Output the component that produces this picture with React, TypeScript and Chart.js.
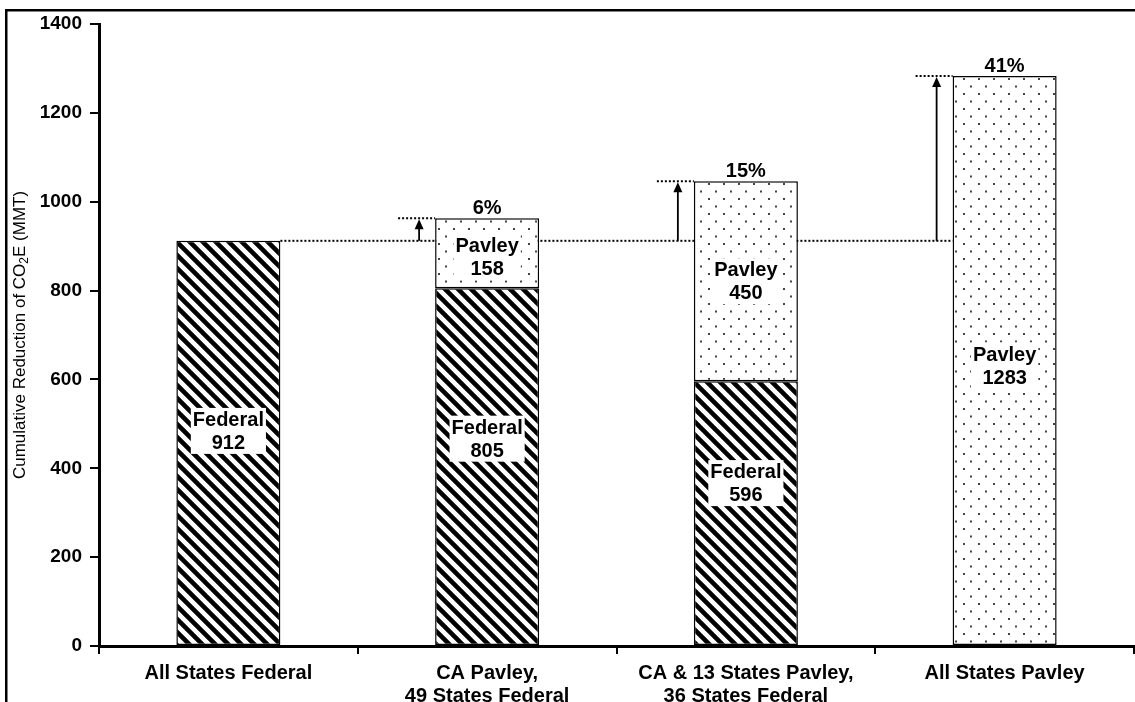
import React, { useEffect, useRef } from "react";
import { Chart, registerables } from "chart.js";

Chart.register(...registerables);

// ---------- data ----------
const categories: string[][] = [
  ["All States Federal"],
  ["CA Pavley,", "49 States Federal"],
  ["CA & 13 States Pavley,", "36 States Federal"],
  ["All States Pavley"],
];
const federalValues: (number | null)[] = [912, 805, 596, null];
const pavleyValues: (number | null)[] = [null, 158, 450, 1283];
const seriesNames = ["Federal", "Pavley"];
const yMin = 0;
const yMax = 1400;
const yStep = 200;
const yTitleParts = ["Cumulative Reduction of CO", "2", "E (MMT)"];

// label nudges (pixels, per dataset / category) – styling only
const labelNudge: number[][] = [
  [-12, -28, -30, 0],
  [0, 4, 0, 5],
];

const FONT = "'Liberation Sans', Arial, Helvetica, sans-serif";
const BOTTOM = 646;

function makeHatch(): CanvasPattern | string {
  const s = 13;
  const c = document.createElement("canvas");
  c.width = s;
  c.height = s;
  const g = c.getContext("2d");
  if (!g) return "#000";
  g.fillStyle = "#fff";
  g.fillRect(0, 0, s, s);
  g.strokeStyle = "#000";
  g.lineWidth = 4.6;
  g.beginPath();
  for (const k of [-1, 0, 1]) {
    g.moveTo(k * s - 3, -3);
    g.lineTo(k * s + s + 3, s + 3);
  }
  g.stroke();
  return g.createPattern(c, "repeat") || "#000";
}

function makeDots(): CanvasPattern | string {
  const w = 15;
  const h = 15;
  const c = document.createElement("canvas");
  c.width = w;
  c.height = h;
  const g = c.getContext("2d");
  if (!g) return "#fff";
  g.fillStyle = "#fff";
  g.fillRect(0, 0, w, h);
  g.fillStyle = "#444";
  g.fillRect(3, 3, 2, 2);
  g.fillRect(10, 10.5, 2, 2);
  return g.createPattern(c, "repeat") || "#fff";
}

function totalAt(i: number): number {
  return (federalValues[i] || 0) + (pavleyValues[i] || 0);
}

const annotPlugin = {
  id: "annot",
  beforeDraw(chart: any) {
    const ctx: CanvasRenderingContext2D = chart.ctx;
    ctx.save();
    ctx.fillStyle = "#fff";
    ctx.fillRect(0, 0, chart.width, chart.height);
    ctx.fillStyle = "#000";
    ctx.fillRect(5, 9, chart.width - 5, 2.5);
    ctx.fillRect(5, 9, 2.5, chart.height - 9);
    ctx.restore();
  },
  beforeDatasetsDraw(chart: any) {
    const ctx: CanvasRenderingContext2D = chart.ctx;
    const y = chart.scales.y;
    const base = totalAt(0);
    const yb = y.getPixelForValue(base);
    const m0 = chart.getDatasetMeta(0);
    const m1 = chart.getDatasetMeta(1);
    const first = m0.data[0].getProps(["x", "width"], true);
    const last = m1.data[categories.length - 1].getProps(["x", "width"], true);
    ctx.save();
    ctx.strokeStyle = "#000";
    ctx.lineWidth = 2;
    ctx.setLineDash([2, 2]);
    ctx.beginPath();
    ctx.moveTo(first.x + first.width / 2, yb);
    ctx.lineTo(last.x - last.width / 2, yb);
    ctx.stroke();
    ctx.restore();
  },
  afterDatasetsDraw(chart: any) {
    const ctx: CanvasRenderingContext2D = chart.ctx;
    const y = chart.scales.y;
    ctx.save();
    ctx.font = `bold 20px ${FONT}`;
    ctx.textAlign = "center";
    ctx.textBaseline = "middle";
    chart.data.datasets.forEach((ds: any, d: number) => {
      const meta = chart.getDatasetMeta(d);
      ds.data.forEach((v: number | null, i: number) => {
        if (v === null || v === undefined) return;
        const el = meta.data[i].getProps(["x", "y", "base"], true);
        const cy = (el.y + el.base) / 2 + (labelNudge[d][i] || 0);
        const lines = [seriesNames[d], String(v)];
        const lh = 23;
        const tw = Math.max(...lines.map((t) => ctx.measureText(t).width));
        const bw = tw + 4;
        const bh = lines.length * lh;
        ctx.fillStyle = "#fff";
        ctx.fillRect(el.x - bw / 2, cy - bh / 2, bw, bh);
        ctx.fillStyle = "#000";
        lines.forEach((t, k) => {
          ctx.fillText(t, el.x, cy - bh / 2 + lh / 2 + k * lh + 1);
        });
      });
    });
    const base = totalAt(0);
    const yb = y.getPixelForValue(base);
    for (let i = 1; i < categories.length; i++) {
      const tot = totalAt(i);
      const yt = y.getPixelForValue(tot);
      const el = chart.getDatasetMeta(1).data[i].getProps(["x", "width"], true);
      const left = el.x - el.width / 2;
      ctx.strokeStyle = "#000";
      ctx.lineWidth = 2;
      ctx.setLineDash([2, 2]);
      ctx.beginPath();
      ctx.moveTo(left - 37, yt);
      ctx.lineTo(left, yt);
      ctx.stroke();
      ctx.setLineDash([]);
      const ax = left - 16;
      ctx.lineWidth = 1.8;
      ctx.beginPath();
      ctx.moveTo(ax, yb);
      ctx.lineTo(ax, yt + 8);
      ctx.stroke();
      ctx.fillStyle = "#000";
      ctx.beginPath();
      ctx.moveTo(ax, yt + 1);
      ctx.lineTo(ax - 4.5, yt + 11);
      ctx.lineTo(ax + 4.5, yt + 11);
      ctx.closePath();
      ctx.fill();
      const pct = Math.round(((tot - base) / base) * 100);
      ctx.font = `bold 20px ${FONT}`;
      ctx.textAlign = "center";
      ctx.textBaseline = "alphabetic";
      ctx.fillText(`${pct}%`, el.x, yt - 4);
    }
    ctx.restore();
  },
  afterDraw(chart: any) {
    const ctx: CanvasRenderingContext2D = chart.ctx;
    const area = chart.chartArea;
    ctx.save();
    const cx = 20;
    const cy = (area.top + area.bottom) / 2;
    ctx.translate(cx, cy);
    ctx.rotate(-Math.PI / 2);
    ctx.fillStyle = "#000";
    ctx.textBaseline = "middle";
    ctx.textAlign = "left";
    const big = `17px ${FONT}`;
    const small = `12px ${FONT}`;
    ctx.font = big;
    const w0 = ctx.measureText(yTitleParts[0]).width;
    const w2 = ctx.measureText(yTitleParts[2]).width;
    ctx.font = small;
    const w1 = ctx.measureText(yTitleParts[1]).width;
    const total = w0 + w1 + w2;
    let x = -total / 2;
    ctx.font = big;
    ctx.fillText(yTitleParts[0], x, 0);
    x += w0;
    ctx.font = small;
    ctx.fillText(yTitleParts[1], x, 5);
    x += w1;
    ctx.font = big;
    ctx.fillText(yTitleParts[2], x, 0);
    ctx.restore();
  },
};

export default function App() {
  const ref = useRef<HTMLCanvasElement | null>(null);
  useEffect(() => {
    if (!ref.current) return;
    Chart.defaults.font.family = FONT;
    Chart.defaults.color = "#000";
    const hatch = makeHatch();
    const dots = makeDots();
    const chart = new Chart(ref.current, {
      type: "bar",
      data: {
        labels: categories,
        datasets: [
          {
            label: seriesNames[0],
            data: federalValues,
            backgroundColor: hatch as any,
            borderColor: "#000",
            borderWidth: 1.5,
            borderSkipped: false,
            categoryPercentage: 1,
            barPercentage: 0.402,
          },
          {
            label: seriesNames[1],
            data: pavleyValues,
            backgroundColor: dots as any,
            borderColor: "#000",
            borderWidth: 1.5,
            borderSkipped: false,
            categoryPercentage: 1,
            barPercentage: 0.402,
          },
        ],
      },
      options: {
        animation: false,
        responsive: false,
        maintainAspectRatio: false,
        devicePixelRatio: 1,
        layout: { padding: { top: 24, left: 0, right: 1, bottom: 0 } },
        plugins: {
          legend: { display: false },
          tooltip: { enabled: false },
          title: { display: false },
        },
        scales: {
          x: {
            stacked: true,
            offset: true,
            afterFit: (s: any) => {
              s.height = 702 - BOTTOM;
            },
            grid: {
              offset: true,
              drawOnChartArea: false,
              drawTicks: true,
              tickLength: 8,
              color: "#000",
              lineWidth: 2,
            },
            border: { display: true, color: "#000", width: 3 },
            ticks: {
              color: "#000",
              padding: 8,
              maxRotation: 0,
              autoSkip: false,
              font: { size: 20, weight: "bold", lineHeight: 1.15 },
            },
          },
          y: {
            stacked: true,
            min: yMin,
            max: yMax,
            afterFit: (s: any) => {
              s.width = 99;
            },
            grid: {
              drawOnChartArea: false,
              drawTicks: true,
              tickLength: 9,
              color: "#000",
              lineWidth: 2,
            },
            border: { display: true, color: "#000", width: 3 },
            ticks: {
              stepSize: yStep,
              color: "#000",
              padding: 8,
              font: { size: 19, weight: "bold" },
              callback: (v: any) => String(v),
            },
          },
        },
      },
      plugins: [annotPlugin],
    });
    return () => chart.destroy();
  }, []);
  return (
    <div
      style={{
        position: "fixed",
        left: 0,
        top: 0,
        width: 1135,
        height: 702,
        background: "#fff",
        overflow: "hidden",
      }}
    >
      <canvas
        ref={ref}
        width={1135}
        height={702}
        style={{ width: 1135, height: 702, display: "block" }}
      />
    </div>
  );
}
